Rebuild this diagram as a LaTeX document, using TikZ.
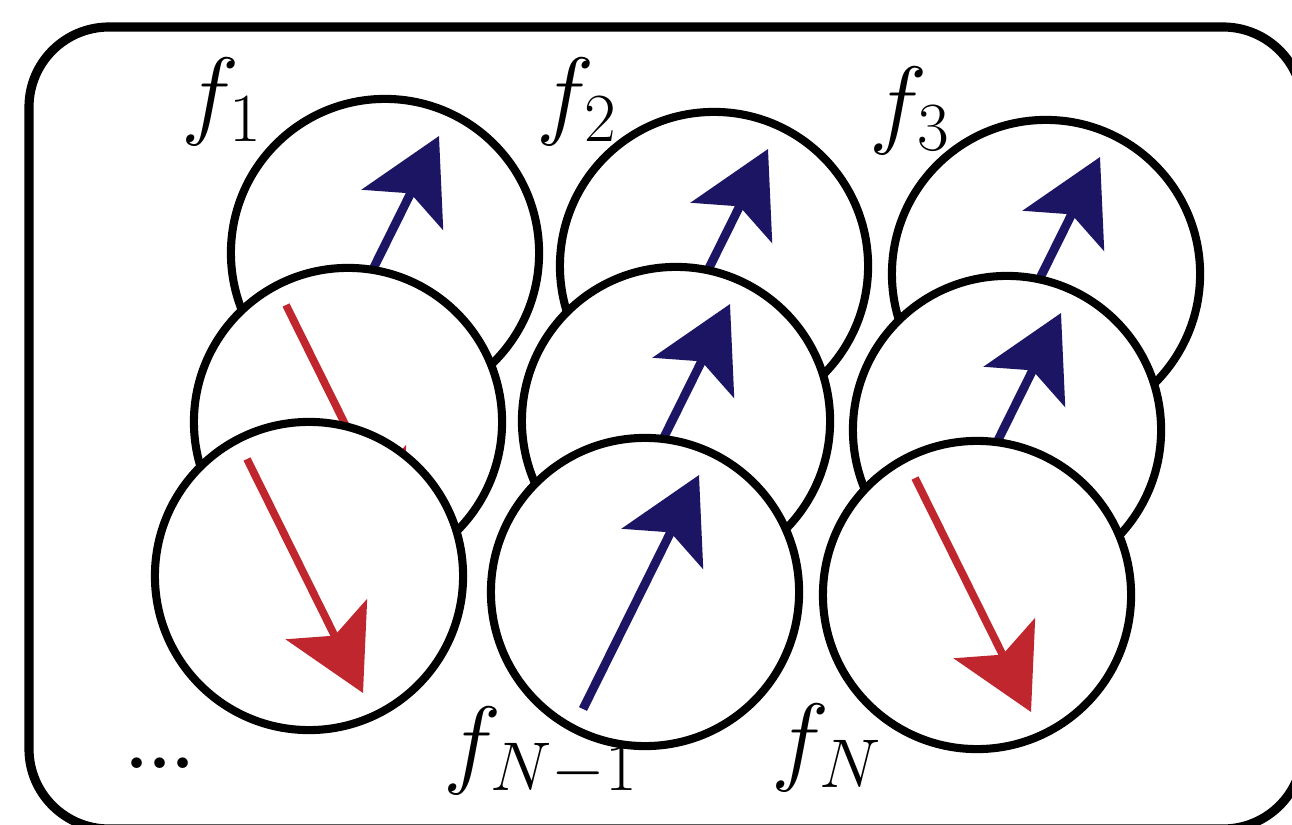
\RequirePackage{fix-cm}
\documentclass[tikz,border=0pt]{standalone}
\usetikzlibrary{arrows.meta}

\definecolor{spinblue}{RGB}{27,21,100}
\definecolor{spinred}{RGB}{192,38,45}

\tikzset{
  ball/.style={draw, circle, fill=white, line width=2.3pt, minimum size=3.08cm, inner sep=0pt},
  upspin/.style={draw=spinblue, line width=2.5pt, -{Stealth[length=8.2mm, width=9mm, inset=1.8mm]}},
  downspin/.style={draw=spinred, line width=2.2pt, -{Stealth[length=8.2mm, width=9mm, inset=1.8mm]}},
  lbl/.style={inner sep=0pt}
}

\begin{document}
\begin{tikzpicture}[x=0.01cm, y=-0.01cm, font=\fontsize{28}{34}\selectfont]
	\useasboundingbox (0,0) rectangle (1292,825);
	\draw[line width=2.6pt, rounded corners=8mm] (29,27) rectangle (1303,829);

	% back row
	\node[ball] (s1) at (385,253) {};
	\draw[upspin] ([shift={(-62,117)}]s1.center) -- ([shift={(54,-117)}]s1.center);
	\node[ball] (s2) at (714,266) {};
	\draw[upspin] ([shift={(-62,117)}]s2.center) -- ([shift={(54,-117)}]s2.center);
	\node[ball] (s3) at (1046,274) {};
	\draw[upspin] ([shift={(-62,117)}]s3.center) -- ([shift={(54,-117)}]s3.center);

	% middle row
	\node[ball] (s4) at (348,422) {};
	\draw[downspin] ([shift={(-62,-117)}]s4.center) -- ([shift={(54,117)}]s4.center);
	\node[ball] (s5) at (676,421) {};
	\draw[upspin] ([shift={(-62,117)}]s5.center) -- ([shift={(54,-117)}]s5.center);
	\node[ball] (s6) at (1007,430) {};
	\draw[upspin] ([shift={(-62,117)}]s6.center) -- ([shift={(54,-117)}]s6.center);

	% front row
	\node[ball] (s7) at (309,576) {};
	\draw[downspin] ([shift={(-62,-117)}]s7.center) -- ([shift={(54,117)}]s7.center);
	\node[ball] (s8) at (645,592) {};
	\draw[upspin] ([shift={(-62,117)}]s8.center) -- ([shift={(54,-117)}]s8.center);
	\node[ball] (s9) at (977,595) {};
	\draw[downspin] ([shift={(-62,-117)}]s9.center) -- ([shift={(54,117)}]s9.center);

	% labels
	\node[lbl] (f1) at (222,102) {$f_1$};
	\node[lbl] (f2) at (577,102) {$f_2$};
	\node[lbl] (f3) at (910,111) {$f_3$};
	\node[lbl] (fn1) at (541,752) {$f_{N-1}$};
	\node[lbl] (fn) at (827,748) {$f_N$};
	\node[lbl, font=\fontsize{21}{25}\selectfont\bfseries] (dots) at (160,763) {...};
\end{tikzpicture}
\end{document}
